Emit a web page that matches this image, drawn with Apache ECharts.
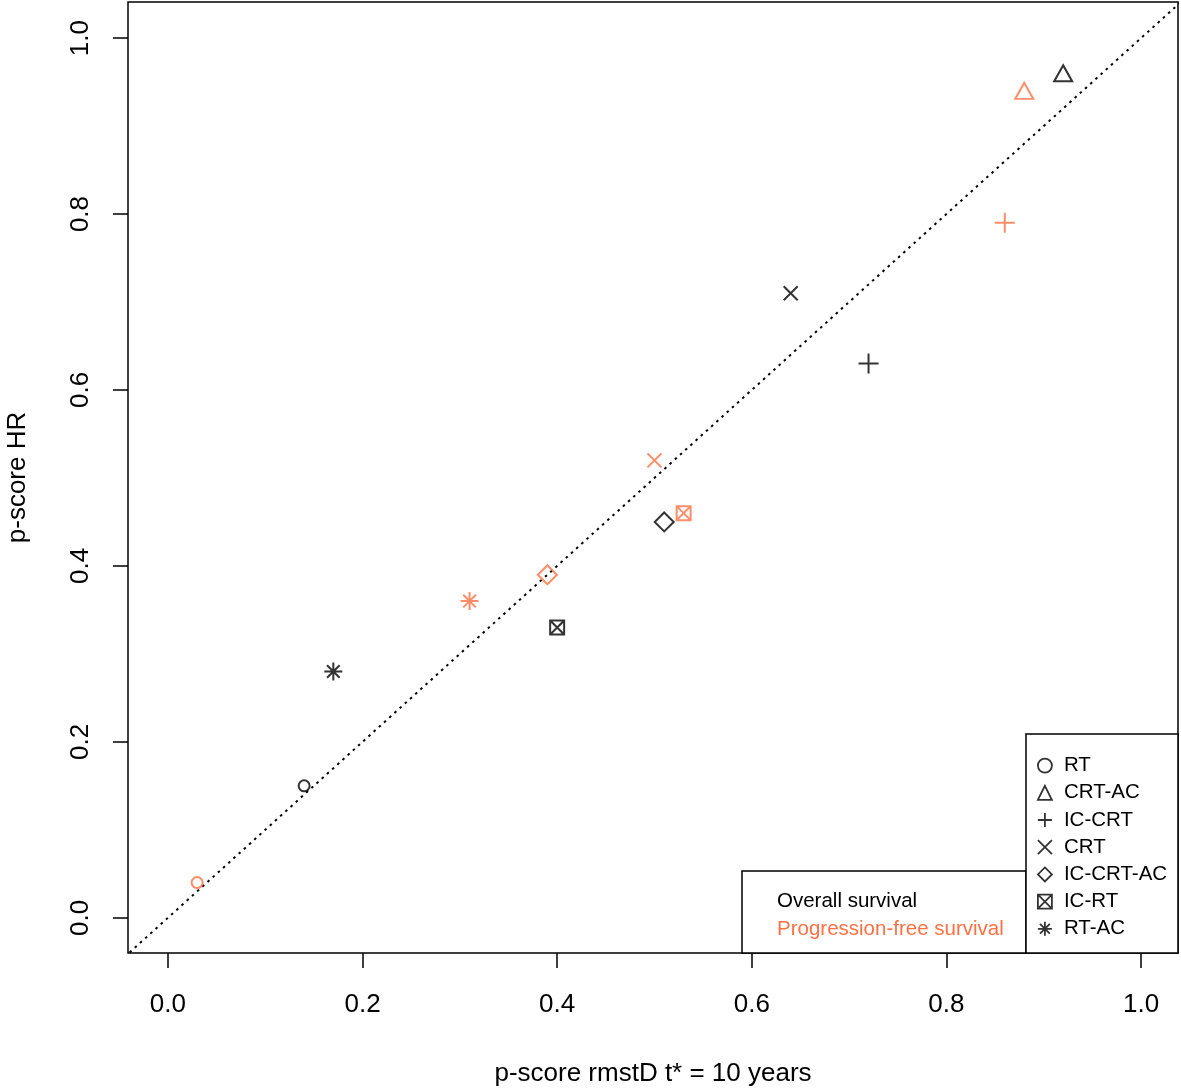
<!DOCTYPE html>
<html>
<head>
<meta charset="utf-8">
<script src="https://cdn.jsdelivr.net/npm/echarts@6/dist/echarts.min.js"></script>
<style>html,body{margin:0;padding:0;background:#fff}#c{width:1181px;height:1089px}</style>
</head>
<body>
<div id="c"></div>
<script>
const treatments = ['RT', 'CRT-AC', 'IC-CRT', 'CRT', 'IC-CRT-AC', 'IC-RT', 'RT-AC'];
const osX  = [0.14, 0.92, 0.72, 0.64, 0.51, 0.40, 0.17];
const osY  = [0.15, 0.96, 0.63, 0.71, 0.45, 0.33, 0.28];
const pfsX = [0.03, 0.88, 0.86, 0.50, 0.39, 0.53, 0.31];
const pfsY = [0.04, 0.94, 0.79, 0.52, 0.39, 0.46, 0.36];
const tickValues = [0, 0.2, 0.4, 0.6, 0.8, 1.0];
const outcomeLabels = ['Overall survival', 'Progression-free survival'];
const xTitle = 'p-score rmstD t* = 10 years';
const yTitle = 'p-score HR';

const BLACK = '#000000';
const ORANGE = '#FF7043';
const FONT = '"Liberation Sans", Arial, sans-serif';

const symbols = [
  'circle',
  'triangle',
  'path://M0,5 L10,5 M5,0 L5,10',
  'path://M0,0 L10,10 M10,0 L0,10',
  'diamond',
  'path://M0,0 L10,0 L10,10 L0,10 Z M0,0 L10,10 M10,0 L0,10',
  'path://M0,5 L10,5 M5,0 L5,10 M1.5,1.5 L8.5,8.5 M8.5,1.5 L1.5,8.5'
];
const sizes = [11, [18, 16], 20, 14, 19, 14, 18];

const series = treatments.map((t, i) => ({
  name: t,
  type: 'scatter',
  symbol: symbols[i],
  symbolSize: sizes[i],
  symbolKeepAspect: true,
  itemStyle: { color: 'transparent', borderColor: BLACK, borderWidth: 2 },
  emphasis: { disabled: true },
  data: [
    { value: [osX[i], osY[i]] },
    { value: [pfsX[i], pfsY[i]], itemStyle: { color: 'transparent', borderColor: ORANGE, borderWidth: 2 } }
  ],
  z: 5
}));

series.push({
  name: 'diag',
  type: 'line',
  data: [[-0.05, -0.05], [1.05, 1.05]],
  symbol: 'none',
  silent: true,
  lineStyle: { color: BLACK, width: 2, type: [2.5, 4.5] },
  z: 3
});

const chart = echarts.init(document.getElementById('c'));
chart.setOption({
  animation: false,
  backgroundColor: '#fff',
  grid: { left: 128, right: 3, top: 2, bottom: 136, show: true, borderColor: BLACK, borderWidth: 1.5, backgroundColor: 'transparent', outerBoundsMode: 'none', containLabel: false },
  xAxis: {
    type: 'value', min: -0.041, max: 1.038,
    name: xTitle, nameLocation: 'middle', nameGap: 108,
    nameTextStyle: { fontSize: 26, color: BLACK, fontFamily: FONT },
    axisLine: { show: false, onZero: false },
    splitLine: { show: false },
    axisTick: { show: true, length: 15, lineStyle: { color: BLACK, width: 1.5 }, customValues: tickValues },
    axisLabel: { margin: 39, fontSize: 26, color: BLACK, fontFamily: FONT, customValues: tickValues, formatter: v => v.toFixed(1) }
  },
  yAxis: {
    type: 'value', min: -0.04, max: 1.041,
    name: yTitle, nameLocation: 'middle', nameGap: 97,
    nameTextStyle: { fontSize: 26, color: BLACK, fontFamily: FONT },
    axisLine: { show: false, onZero: false },
    splitLine: { show: false },
    axisTick: { show: true, length: 15, lineStyle: { color: BLACK, width: 1.5 }, customValues: tickValues },
    axisLabel: { margin: 34, rotate: 90, fontSize: 26, color: BLACK, fontFamily: FONT, customValues: tickValues, formatter: v => v.toFixed(1) }
  },
  legend: {
    data: treatments,
    orient: 'vertical',
    left: 1037, top: 752,
    padding: 0,
    itemGap: 0,
    itemWidth: 14, itemHeight: 14,
    selectedMode: false,
    itemStyle: { color: 'transparent', borderColor: BLACK, borderWidth: 1.8 },
    textStyle: { fontSize: 20.5, color: BLACK, fontFamily: FONT, lineHeight: 27.2, padding: [0, 0, 0, 7] },
    z: 10
  },
  graphic: [
    { type: 'rect', z: 8, shape: { x: 742, y: 871, width: 284, height: 82 }, style: { fill: '#fff', stroke: BLACK, lineWidth: 1.5 } },
    { type: 'rect', z: 8, shape: { x: 1026, y: 734, width: 152, height: 219 }, style: { fill: '#fff', stroke: BLACK, lineWidth: 1.5 } },
    { type: 'text', z: 9, style: { text: outcomeLabels[0], x: 777, y: 901, verticalAlign: 'middle', fill: BLACK, font: '20.5px ' + FONT } },
    { type: 'text', z: 9, style: { text: outcomeLabels[1], x: 777, y: 929, verticalAlign: 'middle', fill: ORANGE, font: '20.5px ' + FONT } }
  ],
  series: series
});
</script>
</body>
</html>
